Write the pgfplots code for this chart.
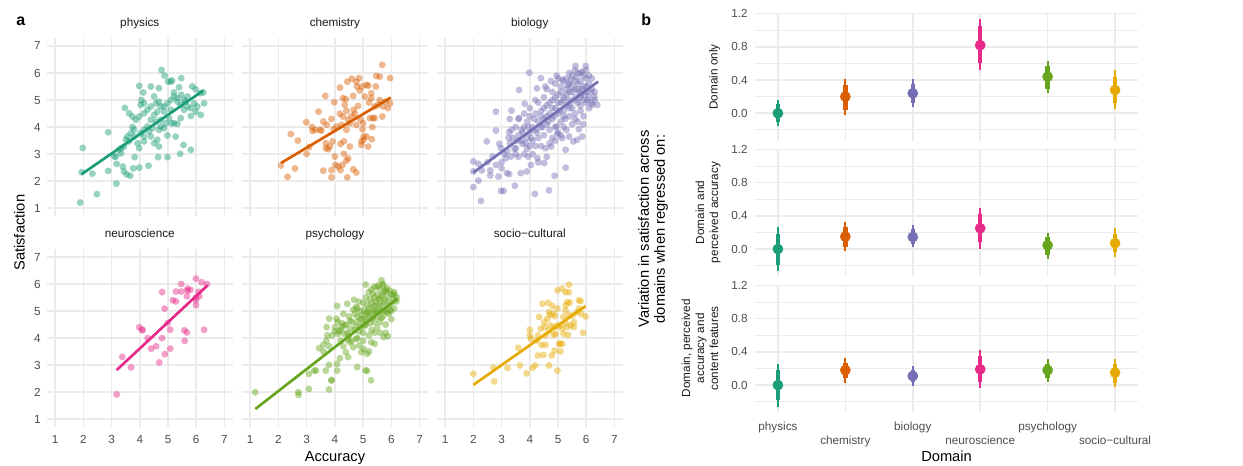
\documentclass[border=0pt]{standalone}
\usepackage{pgfplots}
\pgfplotsset{compat=1.18}
\usepackage{fontspec}
\setmainfont{Liberation Sans}
\definecolor{cPhy}{HTML}{1B9E77}
\definecolor{cChe}{HTML}{D95F02}
\definecolor{cBio}{HTML}{7570B3}
\definecolor{cNeu}{HTML}{E7298A}
\definecolor{cPsy}{HTML}{66A61E}
\definecolor{cSoc}{HTML}{E6AB02}
\definecolor{gridc}{HTML}{EBEBEB}
\definecolor{g30}{HTML}{4D4D4D}
\definecolor{g10}{HTML}{1A1A1A}
\pgfplotsset{
 base/.style={scale only axis, axis line style={draw=none}, major tick length=0pt, minor tick length=0pt,
   tick style={draw=none}, major grid style={gridc, line width=1.2pt}, minor grid style={gridc, line width=0.6pt},
   tick label style={font=\fontsize{8.8}{10}\selectfont, text=g30}, /pgf/number format/assume math mode=true},
 facet/.style={base, anchor=south west, grid=major, width=139.7pt, height=133.9pt, xmin=0.7, xmax=7.3, ymin=0.7, ymax=7.3,
   xtick={1,...,7}, ytick={1,...,7},
   title style={font=\fontsize{8.8}{10}\selectfont, text=g10, at={(0.5,1)}, anchor=base, yshift=2.3pt},
   xticklabel style={yshift=-2.5pt}, yticklabel style={xshift=-1pt}},
 sc/.style={only marks, mark=*, mark size=2.6pt, color=#1, draw opacity=0, fill opacity=0.45, mark options={draw opacity=0, fill=#1, fill opacity=0.45}},
 rl/.style={#1, line width=2pt, no marks},
 rp/.style={base, anchor=south west, width=287.25pt, height=95.85pt, xmin=0.66, xmax=6.34, ymin=-0.33, ymax=1.21,
   xtick={1,...,6}, ytick={0,0.4,0.8,1.2}, minor ytick={-0.2,0.2,0.6,1.0}, grid=both,
   yticklabel style={xshift=-2pt, /pgf/number format/fixed, /pgf/number format/fixed zerofill, /pgf/number format/precision=1}},
}
\newcommand{\pr}[7]{%
 \addplot[#2, line width=1.5pt, no marks] coordinates {(#1,#4) (#1,#5)};
 \addplot[#2, line width=3.4pt, no marks] coordinates {(#1,#6) (#1,#7)};
 \addplot[#2, only marks, mark=*, mark size=3.8pt] coordinates {(#1,#3)};}
\begin{document}
\begin{tikzpicture}
\useasboundingbox (0,0) rectangle (932.25pt,348.75pt);
% ---------- physics
\begin{axis}[facet, at={(35.0pt,186.5pt)}, title={physics}, xticklabels={}]
\addplot[sc=cPhy] coordinates {(1.89,1.21)(2.48,1.52)(1.98,3.23)(1.94,2.33)(2.32,2.28)(2.88,2.38)(2.88,3.81)(3.17,1.91)(3.09,2.91)(3.18,2.64)(3.40,2.54)(3.44,2.36)(3.54,2.25)(3.66,2.20)(3.77,2.47)(3.98,2.50)(4.31,2.57)(3.47,4.71)(3.34,3.22)(3.44,3.28)(3.51,3.54)(3.62,3.47)(3.74,4.00)(3.82,2.89)(3.98,5.52)(4.06,5.00)(4.12,5.28)(4.39,5.50)(4.51,5.13)(4.68,5.44)(4.77,6.11)(4.88,5.90)(5.00,5.68)(5.10,5.68)(5.14,5.72)(5.47,5.81)(5.39,5.47)(5.21,5.28)(5.33,5.07)(5.47,5.19)(5.86,5.50)(5.98,5.40)(6.14,5.25)(6.25,5.28)(6.28,4.88)(6.16,4.45)(5.81,4.41)(5.81,3.16)(5.55,3.34)(5.43,3.01)(4.98,2.89)(4.65,2.89)(5.27,3.65)(4.98,3.69)(5.12,4.14)(4.92,4.14)(5.21,4.14)(5.33,4.12)(5.45,4.33)(5.57,4.64)(5.69,4.76)(4.68,3.28)(4.62,3.53)(4.51,3.40)(4.39,3.65)(4.15,3.47)(3.98,3.22)(3.92,3.40)(3.80,3.65)(4.15,3.90)(4.27,4.02)(4.39,4.27)(4.51,4.45)(4.62,4.57)(4.74,4.76)(4.86,4.76)(4.98,4.88)(5.10,5.00)(5.21,5.13)(5.33,4.94)(4.15,4.51)(4.27,4.64)(4.39,4.76)(3.98,4.39)(3.86,4.27)(3.74,4.39)(3.62,4.51)(4.03,4.82)(4.15,4.88)(4.57,4.88)(4.68,4.94)(4.86,4.57)(4.74,4.27)(4.57,4.20)(4.45,3.96)(4.33,3.83)(4.15,3.65)(4.03,3.77)(3.80,3.90)(3.68,3.77)(3.56,3.65)(3.33,3.03)(3.27,3.16)(3.15,2.91)(5.57,5.00)(5.69,5.13)(5.92,4.88)(6.04,4.76)(5.98,4.57)(5.81,4.70)(5.10,4.64)(5.04,4.33)(4.86,3.96)(4.74,4.02)(4.68,3.90)(5.45,4.82)(5.63,4.94)};
\addplot[rl=cPhy] coordinates {(1.94,2.26) (6.25,5.35)};
\end{axis}
% ---------- chemistry
\begin{axis}[facet, at={(181.3pt,186.5pt)}, title={chemistry}, xticklabels={}, yticklabels={}]
\addplot[sc=cChe] coordinates {(2.09,2.58)(2.32,2.16)(2.59,2.47)(2.44,3.74)(2.69,3.50)(2.99,4.18)(3.00,3.01)(3.09,3.26)(3.19,4.00)(3.21,3.86)(3.42,4.57)(3.52,3.87)(3.59,4.20)(3.59,2.39)(3.66,5.15)(3.68,3.40)(3.76,3.18)(3.82,3.28)(3.88,4.30)(3.88,2.41)(3.88,2.14)(3.98,4.92)(4.00,2.91)(4.02,2.60)(4.12,2.54)(4.18,5.46)(4.20,2.41)(4.20,3.38)(4.24,4.08)(4.32,3.47)(4.35,4.82)(4.39,5.03)(4.41,4.60)(4.47,4.27)(4.44,5.68)(4.53,3.28)(4.32,3.01)(4.41,2.76)(4.44,2.14)(4.60,5.79)(4.65,5.15)(4.67,4.64)(4.71,4.49)(4.65,2.44)(4.76,2.32)(4.79,5.50)(4.86,5.81)(4.88,5.35)(4.91,4.27)(4.94,3.47)(4.98,3.92)(5.02,3.65)(5.06,5.13)(5.12,5.56)(5.18,5.53)(5.21,4.91)(5.24,4.33)(5.18,3.28)(5.29,5.25)(5.33,4.00)(5.31,3.55)(5.35,4.33)(5.45,5.50)(5.47,5.89)(5.53,4.82)(5.59,5.86)(5.68,6.30)(5.68,4.39)(5.71,4.76)(5.80,4.94)(5.96,5.81)(5.96,4.88)(5.88,4.70)(4.82,4.78)(4.59,4.41)(4.29,4.39)(4.06,4.02)(3.71,4.08)(3.47,3.90)(3.31,3.90)(4.76,4.08)(5.00,4.14)(5.12,3.65)(4.94,3.34)(5.02,3.53)(5.41,4.76)(5.59,5.00)(5.29,5.07)(4.41,3.90)(3.96,3.92)(4.29,5.07)(4.76,5.68)(4.96,5.50)(5.41,4.33)(4.18,4.49)(3.92,3.47)(3.68,3.22)(4.47,2.84)(4.27,2.60)(4.53,4.14)};
\addplot[rl=cChe] coordinates {(2.09,2.67) (5.98,5.09)};
\end{axis}
% ---------- biology
\begin{axis}[facet, at={(327.5pt,186.5pt)}, title={biology}, xticklabels={}, yticklabels={}]
\addplot[sc=cBio] coordinates {(2.27,1.27)(2.0,1.78)(2.0,2.36)(2.18,2.02)(2.0,2.73)(2.18,2.64)(2.48,3.47)(2.60,2.21)(2.68,2.91)(2.80,4.57)(2.80,3.87)(2.92,3.38)(2.98,3.22)(2.98,1.64)(3.07,1.64)(2.89,2.17)(3.00,2.48)(3.15,2.85)(3.19,2.30)(3.27,2.26)(3.27,3.81)(3.33,2.91)(3.35,4.61)(3.29,4.30)(3.47,1.83)(3.51,3.22)(3.62,5.37)(3.62,4.33)(3.68,2.30)(3.71,3.90)(3.74,3.38)(3.82,4.86)(3.89,2.36)(3.94,2.91)(3.98,6.01)(4.04,2.60)(4.18,1.53)(4.25,5.43)(4.27,2.85)(4.39,5.81)(4.51,2.67)(4.56,3.22)(4.68,1.66)(4.88,2.20)(4.76,3.28)(4.98,3.75)(5.27,3.16)(5.27,2.50)(5.62,6.26)(5.98,6.26)(5.86,6.05)(6.39,4.82)(6.29,5.13)(6.21,4.82)(5.86,3.65)(5.68,3.53)(5.74,3.92)(5.54,3.47)(5.39,3.65)(5.15,3.59)(4.95,4.02)
(3.6,3.7)(3.7,3.5)(3.8,4.0)(3.9,3.6)(3.9,4.2)(4.0,3.8)(4.0,4.4)(4.1,4.0)(4.1,3.5)(4.2,4.5)(4.2,3.9)(4.3,4.2)(4.3,3.6)(4.4,4.6)(4.4,4.0)(4.5,4.3)(4.5,3.7)(4.6,4.8)(4.6,4.1)(4.7,4.5)(4.7,3.9)(4.8,5.0)(4.8,4.3)(4.8,3.6)(4.9,4.7)(4.9,4.0)(5.0,5.2)(5.0,4.5)(5.0,3.8)(5.1,4.9)(5.1,4.2)(5.1,5.5)(5.2,5.1)(5.2,4.6)(5.2,4.0)(5.3,5.4)(5.3,4.8)(5.3,5.8)(5.4,5.0)(5.4,4.4)(5.4,5.6)(5.5,5.3)(5.5,4.7)(5.5,5.9)(5.6,5.1)(5.6,4.5)(5.6,5.7)(5.7,5.4)(5.7,4.9)(5.7,6.0)(5.8,5.2)(5.8,4.6)(5.8,5.7)(5.9,5.5)(5.9,5.0)(5.9,4.4)(6.0,5.3)(6.0,5.8)(6.0,4.9)(6.1,5.1)(6.1,5.6)(6.2,5.4)(4.6,5.4)(4.5,5.1)(4.3,4.9)(4.2,5.0)(4.0,4.7)(3.8,4.5)(3.6,4.3)(4.9,5.6)(5.0,5.8)(4.8,5.3)(5.2,5.7)(5.4,6.0)(5.6,6.1)(5.8,6.0)(6.0,6.1)(5.3,3.9)(5.5,4.1)(5.1,3.7)(4.9,3.5)(4.7,3.4)(5.7,4.2)(5.9,4.1)(6.1,4.7)(6.2,4.9)(6.3,5.3)(6.3,5.0)(4.4,3.3)(4.2,3.3)(3.9,3.2)(3.5,3.0)(3.4,3.6)(3.3,3.4)(3.1,3.0)(3.0,2.7)(2.8,2.6)(2.6,2.4)(2.5,2.7)(2.3,2.4)(3.2,3.1)(3.5,4.0)(3.6,2.9)(4.1,3.0)(4.6,2.9)(4.3,2.7)(3.8,3.0)(4.0,3.3)(5.2,4.4)(5.4,4.7)(5.6,4.3)(5.8,4.8)(6.0,5.5)(5.7,5.6)(5.5,5.5)(5.3,5.2)(5.1,5.3)(4.9,5.1)(4.7,4.9)(4.5,4.7)(4.4,4.4)(4.6,4.4)(4.8,4.7)(5.0,4.9)(5.2,5.0)(5.4,5.3)(5.6,5.4)(5.8,5.1)(5.9,5.9)(6.1,5.9)(6.2,5.8)(5.45,5.75)(5.65,5.85)(5.35,5.55)(5.15,5.75)(4.95,5.9)(4.75,5.7)(4.55,5.5)(5.75,5.3)(5.95,5.2)(5.05,4.6)(4.85,4.4)(4.65,4.2)(4.45,4.0)(4.25,3.8)(4.05,3.6)(3.85,3.4)(5.25,4.3)(5.45,4.9)(5.65,5.0)(5.85,5.4)(6.05,5.0)(6.15,5.3)(4.15,4.3)(3.95,4.0)(3.75,3.8)(3.55,3.5)(3.45,3.2)(3.35,3.9)(3.25,3.6)};
\addplot[rl=cBio] coordinates {(2.0,2.32) (6.42,5.68)};
\end{axis}
% ---------- neuroscience
\begin{axis}[facet, at={(35.0pt,28.2pt)}, title={neuroscience}]
\addplot[sc=cNeu] coordinates {(3.18,1.92)(3.38,3.31)(3.69,2.92)(3.98,4.40)(4.08,4.32)(4.10,4.29)(4.28,4.00)(4.40,3.61)(4.58,3.70)(4.69,3.10)(4.79,4.00)(4.79,5.70)(4.88,5.09)(4.89,3.41)(4.99,4.56)(5.08,4.31)(5.08,3.61)(5.17,5.40)(5.28,5.36)(5.28,5.72)(5.47,6.00)(5.47,5.72)(5.58,4.29)(5.59,3.90)(5.67,4.21)(5.67,5.55)(5.69,5.83)(5.69,5.75)(5.79,5.79)(5.99,6.20)(5.99,5.50)(5.99,5.22)(5.99,5.40)(6.08,5.71)(6.19,6.07)(6.28,4.31)(6.38,6.00)(6.11,5.55)};
\addplot[rl=cNeu] coordinates {(3.18,2.82) (6.40,5.95)};
\end{axis}
% ---------- psychology
\begin{axis}[facet, at={(181.3pt,28.2pt)}, title={psychology}, yticklabels={}]
\addplot[sc=cPsy] coordinates {(1.18,2.00)(2.71,2.00)(2.71,1.90)(3.08,2.12)(3.79,2.10)(3.88,2.46)(3.88,2.43)(3.27,2.80)(3.33,2.80)(3.08,2.68)(3.68,2.80)(3.79,3.01)(4.08,2.80)(4.08,3.05)(4.18,3.26)(4.08,5.19)(4.44,5.27)(4.68,5.42)(4.79,2.93)(5.09,2.81)(5.14,2.79)(5.28,2.44)(3.44,3.63)(3.59,3.75)(3.73,4.10)(3.80,4.72)(3.71,4.41)(4.06,4.72)(4.00,4.25)(4.12,4.16)(4.24,4.41)(4.35,4.47)(4.44,4.20)(4.53,3.85)(4.39,3.48)(4.47,3.30)(4.65,3.67)(4.76,3.98)(4.86,3.73)(4.94,3.48)(5.02,3.60)(5.14,3.42)(5.21,3.51)(5.29,3.85)(5.41,3.79)(5.88,4.07)(5.73,4.04)(5.09,5.98)(5.65,6.14)(5.49,5.89)(5.71,5.95)(5.82,5.77)(6.06,5.64)(6.18,5.36)(6.12,5.58)
(4.6,4.6)(4.7,4.9)(4.7,4.3)(4.8,5.1)(4.8,4.6)(4.9,4.4)(4.9,5.0)(5.0,4.7)(5.0,5.3)(5.0,4.2)(5.1,4.9)(5.1,5.5)(5.1,4.5)(5.2,5.1)(5.2,4.7)(5.2,5.7)(5.3,4.9)(5.3,5.3)(5.3,4.3)(5.3,5.8)(5.4,5.0)(5.4,5.5)(5.4,4.6)(5.4,5.9)(5.5,5.2)(5.5,4.8)(5.5,5.6)(5.5,4.4)(5.6,5.4)(5.6,5.0)(5.6,5.8)(5.6,4.6)(5.7,5.2)(5.7,5.6)(5.7,4.8)(5.7,6.0)(5.8,5.4)(5.8,5.0)(5.8,5.7)(5.8,4.5)(5.9,5.2)(5.9,5.5)(5.9,4.9)(6.0,5.3)(6.0,5.6)(6.0,5.0)(6.1,5.4)(6.1,5.7)(6.2,5.5)(4.5,4.8)(4.4,4.5)(4.3,4.9)(4.2,4.3)(4.1,4.6)(4.0,4.4)(3.9,4.1)(3.8,3.7)(3.7,3.9)(3.6,3.5)(4.2,3.9)(4.5,4.1)(4.6,3.9)(4.3,3.7)(4.8,4.0)(5.0,3.9)(5.2,4.1)(5.4,4.2)(5.6,4.2)(5.8,4.2)(6.0,4.7)(6.1,5.1)(5.35,5.65)(5.45,5.35)(5.55,5.95)(5.65,5.55)(5.75,5.35)(5.85,5.85)(5.95,5.75)(5.25,5.45)(5.15,5.25)(5.05,5.05)(4.95,4.85)(4.85,5.35)(4.75,5.15)(4.65,5.05)(5.45,4.95)(5.65,4.75)(5.85,4.95)(5.95,5.05)(5.25,4.55)(5.05,4.45)(4.85,4.25)(4.55,4.35)(4.35,4.15)(4.15,4.25)(5.5,5.0)(5.6,5.2)(5.7,5.0)(5.3,5.1)(5.4,5.2)(5.2,4.9)(5.1,4.7)(5.0,4.5)(4.9,4.7)(4.8,4.8)(5.75,5.75)(5.55,5.45)(5.35,4.75)(5.15,4.95)(4.45,3.95)(4.25,4.55)(4.75,4.45)(4.55,4.65)};
\addplot[rl=cPsy] coordinates {(1.18,1.38) (6.21,5.46)};
\end{axis}
% ---------- socio-cultural
\begin{axis}[facet, at={(327.5pt,28.2pt)}, title={socio−cultural}, yticklabels={}]
\addplot[sc=cSoc] coordinates {(2.0,2.68)(2.74,2.40)(2.71,2.90)(3.21,2.90)(3.59,3.64)(3.65,2.99)(3.89,2.70)(4.09,2.90)(4.19,2.99)(4.68,2.99)(4.98,2.80)(4.29,3.36)(4.48,3.38)(4.78,3.36)(4.88,3.54)(5.09,3.51)(5.04,3.79)(5.15,3.79)(4.56,3.75)(4.42,3.75)(4.25,3.91)(4.04,3.98)(4.0,4.10)(4.0,4.31)(4.29,4.10)(4.56,4.10)(4.39,4.35)(4.53,4.41)(4.68,4.28)(4.84,4.12)(4.92,4.16)(4.88,4.41)(4.98,4.47)(5.15,4.35)(5.19,4.16)(5.35,4.12)(5.33,4.41)(5.27,4.57)(5.45,4.47)(5.56,4.59)(5.56,4.41)(5.89,4.20)(4.33,4.78)(4.51,4.59)(4.62,4.72)(4.72,4.86)(4.84,4.90)(4.88,4.81)(4.68,4.96)(4.98,5.09)(5.19,4.78)(5.27,5.02)(5.39,4.84)(5.51,4.84)(5.68,4.96)(5.74,5.09)(5.82,4.90)(5.98,4.80)(4.45,5.27)(4.65,5.31)(4.80,5.19)(4.98,5.77)(5.15,5.83)(5.27,5.70)(5.39,5.98)(5.39,5.70)(5.33,5.33)(5.27,5.21)(5.42,5.31)(5.74,5.40)(5.80,5.37)(5.07,3.79)(5.09,4.47)(4.74,4.47)};
\addplot[rl=cSoc] coordinates {(2.0,2.27) (5.98,5.19)};
\end{axis}
% ---------- right panel
\begin{axis}[rp, at={(566.25pt,243.3pt)}, xticklabels={}]
\pr{1}{cPhy}{0.00}{-0.16}{0.16}{-0.11}{0.11}
\pr{2}{cChe}{0.20}{-0.02}{0.41}{0.04}{0.34}
\pr{3}{cBio}{0.24}{0.07}{0.41}{0.12}{0.355}
\pr{4}{cNeu}{0.82}{0.52}{1.14}{0.61}{1.05}
\pr{5}{cPsy}{0.44}{0.24}{0.625}{0.29}{0.57}
\pr{6}{cSoc}{0.28}{0.05}{0.52}{0.12}{0.44}
\end{axis}
\begin{axis}[rp, at={(566.25pt,141.45pt)}, xticklabels={}]
\pr{1}{cPhy}{0.00}{-0.27}{0.26}{-0.19}{0.18}
\pr{2}{cChe}{0.15}{-0.02}{0.32}{0.03}{0.26}
\pr{3}{cBio}{0.145}{0.02}{0.29}{0.06}{0.24}
\pr{4}{cNeu}{0.25}{0.00}{0.50}{0.08}{0.42}
\pr{5}{cPsy}{0.045}{-0.12}{0.19}{-0.07}{0.15}
\pr{6}{cSoc}{0.07}{-0.10}{0.25}{-0.04}{0.18}
\end{axis}
\begin{axis}[rp, at={(566.25pt,39.4pt)}, xtick={1,3,5}, xticklabels={physics,biology,psychology},
  extra x ticks={2,4,6}, extra x tick labels={chemistry,neuroscience,socio−cultural},
  extra x tick style={grid=major, xticklabel style={yshift=-10.5pt}}, xticklabel style={yshift=-3.5pt}]
\pr{1}{cPhy}{0.00}{-0.26}{0.25}{-0.18}{0.18}
\pr{2}{cChe}{0.18}{0.03}{0.33}{0.08}{0.27}
\pr{3}{cBio}{0.11}{-0.01}{0.23}{0.04}{0.18}
\pr{4}{cNeu}{0.19}{-0.04}{0.42}{0.04}{0.35}
\pr{5}{cPsy}{0.18}{0.04}{0.31}{0.09}{0.26}
\pr{6}{cSoc}{0.15}{-0.02}{0.31}{0.03}{0.26}
\end{axis}
% ---------- texts
\node[anchor=base west, font=\fontsize{12}{14}\selectfont\bfseries] at (8.8pt,329.3pt) {a};
\node[anchor=base west, font=\fontsize{12}{14}\selectfont\bfseries] at (477.5pt,329.3pt) {b};
\node[rotate=90, font=\fontsize{11}{13}\selectfont] at (14.6pt,174.2pt) {Satisfaction};
\node[anchor=base, font=\fontsize{11}{13}\selectfont] at (251.2pt,2.5pt) {Accuracy};
\node[anchor=base, font=\fontsize{11}{13}\selectfont] at (709.9pt,2.5pt) {Domain};
\node[rotate=90, align=center, font=\fontsize{11}{12}\selectfont] at (489.75pt,177pt) {Variation in satisfaction across\\domains when regressed on:};
\node[rotate=90, align=center, text=g10, font=\fontsize{8.8}{10.5}\selectfont] at (535.9pt,291.1pt) {Domain only};
\node[rotate=90, align=center, text=g10, font=\fontsize{8.8}{10.5}\selectfont] at (531pt,189.4pt) {Domain and\\perceived accuracy};
\node[rotate=90, align=center, text=g10, font=\fontsize{8.8}{10.5}\selectfont] at (525pt,87.5pt) {Domain, perceived\\accuracy and\\content features};
\end{tikzpicture}
\end{document}
